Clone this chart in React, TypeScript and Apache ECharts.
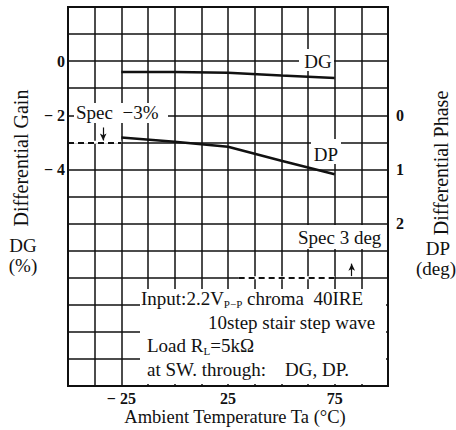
import React, { useEffect, useRef } from "react";
import * as echarts from "echarts";

// ---- data ----
const TEMPS = [-25, 0, 25, 50, 75];
const DG_VALUES = [-0.4, -0.4, -0.43, -0.53, -0.62];
const DP_VALUES = [0.41, 0.49, 0.58, 0.84, 1.09];

const X_LABELS: Record<string, string> = { "-25": "\u2212 25", "25": "25", "75": "75" };
const DG_LABELS: Record<string, string> = { "0": "0", "-2": "\u2212 2", "-4": "\u2212 4" };
const DP_LABELS: Record<string, string> = { "0": "0", "1": "1", "2": "2" };

const SPEC_DG = -3;
const SPEC_DP = 3;

// axes ranges
const X_MIN = -50, X_MAX = 100, X_STEP = 12.5;
const DG_MIN = -12, DG_MAX = 2, DG_STEP = 1;
const DP_MIN = -2, DP_MAX = 5, DP_STEP = 0.5;

// layout
const W = 456, H = 430;
const G = { left: 68, top: 7, width: 320, height: 379 };
const px = (x: number) => G.left + ((x - X_MIN) / (X_MAX - X_MIN)) * G.width;
const pyL = (v: number) => G.top + ((DG_MAX - v) / (DG_MAX - DG_MIN)) * G.height;
const pyR = (v: number) => G.top + ((v - DP_MIN) / (DP_MAX - DP_MIN)) * G.height;

const FONT = "'Liberation Serif', 'Times New Roman', serif";
const INK = "#111";

export default function App() {
  const ref = useRef<HTMLDivElement>(null);
  useEffect(() => {
    document.body.style.margin = "0";
    if (!ref.current) return;
    const chart = echarts.init(ref.current, null, { renderer: "svg" });

    const whiteRect = (x1: number, y1: number, x2: number, y2: number) => ({
      type: "rect",
      z: 1,
      silent: true,
      shape: { x: x1, y: y1, width: x2 - x1, height: y2 - y1 },
      style: { fill: "#fff" },
    });
    const txt = (text: string, x: number, y: number, size: number, align = "left", extra: any = {}) => ({
      type: "text",
      z: 5,
      silent: true,
      x,
      y,
      ...extra,
      style: {
        text,
        fontFamily: FONT,
        fontSize: size,
        fill: INK,
        align,
        verticalAlign: "middle",
        ...(extra.style || {}),
      },
    });
    const richBase = { fontFamily: FONT, fontSize: 19, fill: INK, lineHeight: 22 } as any;
    const richSub = { fontFamily: FONT, fontSize: 11, fill: INK, lineHeight: 22, verticalAlign: "bottom" } as any;

    const option: any = {
      animation: false,
      backgroundColor: "#fff",
      grid: {
        left: G.left,
        top: G.top,
        width: G.width,
        height: G.height,
        show: true,
        borderColor: INK,
        borderWidth: 2,
        backgroundColor: "transparent",
      },
      xAxis: {
        type: "value",
        min: X_MIN,
        max: X_MAX,
        interval: X_STEP,
        axisLine: { show: false },
        axisTick: { show: false },
        splitLine: { show: true, lineStyle: { color: INK, width: 1.5 } },
        axisLabel: {
          margin: 4,
          fontFamily: FONT,
          fontSize: 16,
          fontWeight: "bold",
          color: INK,
          formatter: (v: number) => X_LABELS[String(v)] ?? "",
        },
      },
      yAxis: [
        {
          type: "value",
          min: DG_MIN,
          max: DG_MAX,
          interval: DG_STEP,
          axisLine: { show: false },
          axisTick: { show: false },
          splitLine: { show: true, lineStyle: { color: INK, width: 1.5 } },
          axisLabel: {
            margin: 3,
            fontFamily: FONT,
            fontSize: 16,
            fontWeight: "bold",
            color: INK,
            formatter: (v: number) => DG_LABELS[String(v)] ?? "",
          },
        },
        {
          type: "value",
          position: "right",
          inverse: true,
          min: DP_MIN,
          max: DP_MAX,
          interval: DP_STEP,
          axisLine: { show: false },
          axisTick: { show: false },
          splitLine: { show: false },
          axisLabel: {
            margin: 8,
            fontFamily: FONT,
            fontSize: 16,
            fontWeight: "bold",
            color: INK,
            formatter: (v: number) => DP_LABELS[String(v)] ?? "",
          },
        },
      ],
      series: [
        {
          name: "DG",
          type: "line",
          yAxisIndex: 0,
          symbol: "none",
          z: 3,
          lineStyle: { color: INK, width: 2.5 },
          data: TEMPS.map((t, i) => [t, DG_VALUES[i]]),
          markLine: {
            silent: true,
            symbol: "none",
            label: { show: false },
            data: [
              [
                { coord: [X_MIN, SPEC_DG], lineStyle: { color: INK, width: 2, type: [6, 4] } },
                { coord: [-25, SPEC_DG] },
              ],
              [
                { coord: [-33.5, -2.45], symbol: "none", lineStyle: { color: INK, width: 1.2, type: "solid" } },
                { coord: [-33.5, -2.93], symbol: "arrow", symbolSize: [5, 7] },
              ],
            ],
          },
        },
        {
          name: "DP",
          type: "line",
          yAxisIndex: 1,
          symbol: "none",
          z: 3,
          lineStyle: { color: INK, width: 2.5 },
          data: TEMPS.map((t, i) => [t, DP_VALUES[i]]),
          markLine: {
            silent: true,
            symbol: "none",
            label: { show: false },
            data: [
              [
                { coord: [30, SPEC_DP], lineStyle: { color: INK, width: 2, type: [6, 4] } },
                { coord: [75, SPEC_DP] },
              ],
              [
                { coord: [83, 2.97], symbol: "none", lineStyle: { color: INK, width: 1.2, type: "solid" } },
                { coord: [83, 2.74], symbol: "arrow", symbolSize: [5, 7] },
              ],
            ],
          },
        },
      ],
      graphic: [
        // white masks over the grid
        whiteRect(px(X_MIN) + 1, pyL(SPEC_DG) - 1.5, px(-25), pyL(SPEC_DG) + 1.5),
        whiteRect(px(30), pyR(SPEC_DP) - 1.5, px(75), pyR(SPEC_DP) + 1.5),
        whiteRect(299, 49, 334, 71),
        whiteRect(311, 139, 341, 164),
        whiteRect(74, 103, 168, 123),
        whiteRect(293, 225, 386, 249),
        whiteRect(140, 289, 386, 384),
        // in-plot labels
        txt("DG", 318, 61, 19, "center"),
        txt("DP", 326, 154, 19, "center"),
        txt("Spec  \u22123%", 76, 112, 19, "left"),
        txt("Spec 3 deg", 298, 237, 19, "left"),
        // conditions note
        {
          type: "text",
          z: 5,
          silent: true,
          x: 141,
          y: 298,
          style: {
            text: "{a|Input:2.2V}{s|P\u2212P}{a| chroma  40IRE}",
            rich: { a: richBase, s: richSub },
            fontFamily: FONT,
            fontSize: 19,
            fill: INK,
            align: "left",
            verticalAlign: "middle",
          },
        },
        txt("10step stair step wave", 208, 322, 19, "left"),
        {
          type: "text",
          z: 5,
          silent: true,
          x: 147,
          y: 345,
          style: {
            text: "{a|Load R}{s|L}{a|=5k\u03a9}",
            rich: { a: richBase, s: richSub },
            fontFamily: FONT,
            fontSize: 19,
            fill: INK,
            align: "left",
            verticalAlign: "middle",
          },
        },
        txt("at SW. through:    DG, DP.", 147, 369, 19, "left"),
        // axis names
        txt("Ambient Temperature Ta (\u00b0C)", 235, 417, 18.5, "center"),
        txt("Differential Gain", 21, 158, 20, "center", { rotation: Math.PI / 2 }),
        txt("DG", 23, 245, 19, "center"),
        txt("(%)", 23, 265, 19, "center"),
        txt("Differential Phase", 441, 163, 20, "center", { rotation: Math.PI / 2 }),
        txt("DP", 438, 248, 19, "center"),
        txt("(deg)", 436, 268, 19, "center"),
      ],
    };
    chart.setOption(option);
    return () => chart.dispose();
  }, []);
  return <div ref={ref} style={{ width: W, height: H }} />;
}
